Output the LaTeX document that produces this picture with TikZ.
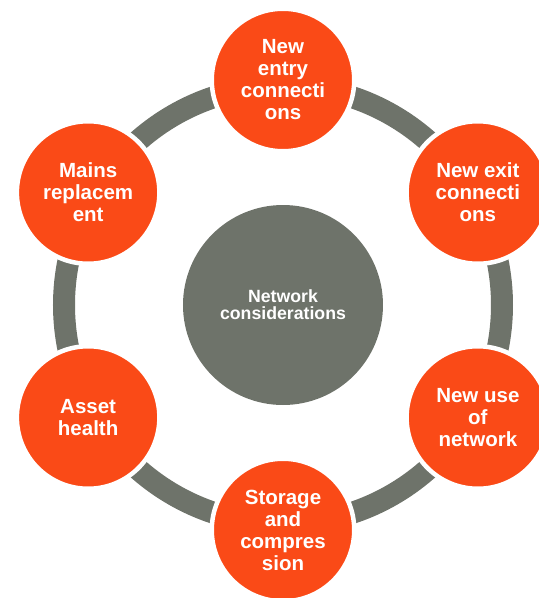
\documentclass[tikz,border=0pt]{standalone}
\usepackage{fontspec}
\setmainfont{Liberation Sans}
\usepackage{tikz}
\definecolor{hubgray}{RGB}{110,115,106}
\definecolor{spokeorange}{RGB}{250,74,23}
\tikzset{
  topic/.style={circle, fill=spokeorange, draw=white, line width=4.5pt, minimum size=142.5pt, inner sep=0pt, align=center, text=white, font=\fontsize{20.5}{22}\selectfont\bfseries},
  hub/.style={circle, fill=hubgray, minimum size=200pt, inner sep=0pt, align=center, text=white, font=\fontsize{17.7}{17}\selectfont\bfseries},
  ring/.style={draw=hubgray, line width=22pt}
}
\begin{document}
\begin{tikzpicture}[x=1pt, y=1pt]
          \clip (-283, -293) rectangle (256, 305);
          \node [hub] (ctr) at (0, 0) {Network\\considerations};
          \draw [ring] (ctr.center) circle (219);
          \node [topic] (entry) at (90:225) {New\\entry\\connecti\\ons};
          \node [topic] (exit) at (30:225) {New exit\\connecti\\ons};
          \node [topic] (use) at (-30:225) {New use\\of\\network};
          \node [topic] (storage) at (-90:225) {Storage\\and\\compres\\sion};
          \node [topic] (asset) at (210:225) {Asset\\health};
          \node [topic] (mains) at (150:225) {Mains\\replacem\\ent};
        \end{tikzpicture}
\end{document}
